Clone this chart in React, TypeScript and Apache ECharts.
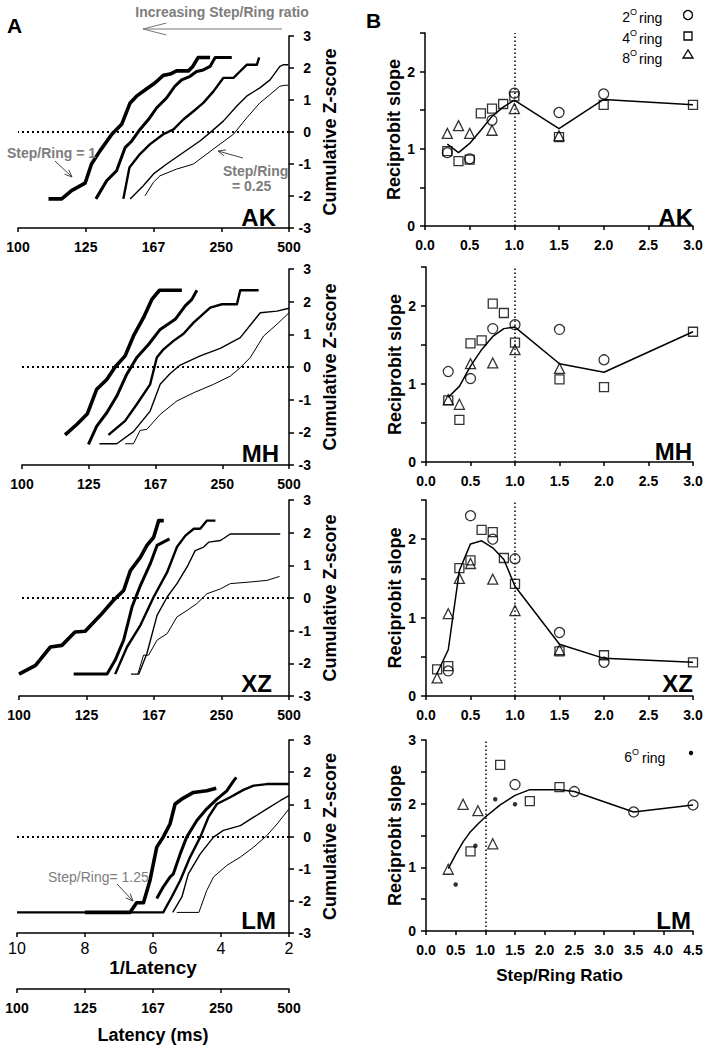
import React, { useEffect, useRef } from "react";
import * as echarts from "echarts";

const FONT = "'Liberation Sans', Arial, Helvetica, sans-serif";
const GRAY = "#7d7d7d";

// ---------------- Panel A data (x = 1/latency in s^-1, y = cumulative z-score) ----------------
const subjects = ["AK", "MH", "XZ", "LM"];
const rateTicks = [10, 8, 6, 4, 2];
const latencyTickLabels = ["100", "125", "167", "250", "500"];

const akCurves = [
  [[9.1,-2.09],[8.71,-2.09],[8.42,-1.83],[8.02,-1.6],[7.83,-1.0],[7.58,-0.59],[7.23,-0.07],[6.94,0.24],[6.69,0.91],[6.5,1.12],[6.2,1.35],[5.96,1.53],[5.71,1.77],[5.51,1.81],[5.32,1.91],[4.97,1.91],[4.84,2.05],[4.68,2.33],[4.33,2.33]],
  [[7.7,-2.09],[7.38,-1.52],[7.09,-1.21],[6.84,-0.49],[6.64,-0.28],[6.4,0.08],[6.15,0.39],[5.91,0.75],[5.61,1.07],[5.37,1.43],[5.17,1.63],[4.92,1.74],[4.73,1.89],[4.53,1.94],[4.33,2.05],[4.18,2.33],[3.69,2.33]],
  [[6.89,-2.09],[6.71,-1.11],[6.4,-0.69],[6.1,-0.38],[5.71,-0.07],[5.41,0.08],[5.12,0.39],[4.82,0.65],[4.53,0.91],[4.23,1.27],[3.94,1.69],[3.64,1.69],[3.45,1.89],[3.25,2.1],[2.95,2.1],[2.88,2.33]],
  [[6.69,-2.09],[6.3,-1.68],[6.0,-1.31],[5.61,-1.0],[5.12,-0.64],[4.63,-0.28],[4.33,-0.02],[3.94,0.34],[3.54,0.81],[3.25,1.12],[2.86,1.38],[2.56,1.63],[2.27,2.05],[2.17,2.1],[2.02,2.1]],
  [[6.25,-1.99],[6.0,-1.57],[5.81,-1.37],[5.32,-1.16],[4.82,-1.0],[4.43,-0.69],[4.04,-0.38],[3.64,-0.07],[3.25,0.44],[2.86,0.91],[2.56,1.17],[2.27,1.43],[2.12,1.46],[2.02,1.46]],
];
const mhCurves = [
  [[8.71,-2.08],[8.36,-1.76],[8.04,-1.43],[7.76,-0.68],[7.46,-0.38],[7.21,0],[6.91,0.34],[6.66,0.95],[6.36,1.51],[6.11,2.07],[5.88,2.35],[5.21,2.35]],
  [[8.01,-2.37],[7.76,-1.81],[7.46,-1.4],[7.16,-0.89],[6.86,-0.22],[6.56,0.29],[6.21,0.69],[5.86,1.15],[5.41,1.46],[5.11,1.87],[4.91,2.07],[4.76,2.35]],
  [[7.41,-2.08],[6.91,-1.65],[6.56,-1.14],[6.16,-0.53],[5.96,0.29],[5.76,0.54],[5.46,0.8],[5.16,1.02],[4.86,1.36],[4.36,1.82],[4.01,1.92],[3.56,1.92],[3.46,2.35],[2.91,2.35]],
  [[7.68,-2.35],[7.16,-2.35],[6.66,-1.98],[6.16,-1.35],[5.86,-0.53],[5.56,-0.2],[5.26,0.06],[4.66,0.34],[4.06,0.57],[3.46,0.9],[3.06,1.41],[2.86,1.66],[2.36,1.71],[2.0,1.8]],
  [[6.91,-2.35],[6.66,-2.35],[6.46,-1.94],[6.26,-1.91],[5.86,-1.45],[5.36,-1.04],[4.86,-0.79],[4.26,-0.53],[3.76,-0.28],[3.46,-0.02],[3.16,0.29],[2.76,0.95],[2.36,1.31],[2.0,1.66]],
];
const xzCurves = [
  [[10.0,-2.33],[9.51,-2.06],[9.07,-1.5],[8.73,-1.45],[8.34,-1.04],[8.04,-1.02],[7.59,-0.53],[7.2,-0.07],[6.9,0.23],[6.7,0.84],[6.4,1.25],[6.21,1.61],[6.01,1.86],[5.86,2.37],[5.71,2.37]],
  [[8.38,-2.33],[7.39,-2.33],[7.15,-1.9],[6.9,-1.29],[6.65,-0.27],[6.4,0.39],[6.11,1.05],[5.91,1.61],[5.54,1.81]],
  [[7.15,-2.33],[6.8,-1.5],[6.4,-0.83],[6.01,0.03],[5.61,0.79],[5.32,1.56],[5.07,1.91],[4.82,2.12],[4.63,2.12],[4.43,2.37],[4.18,2.37]],
  [[6.68,-2.33],[6.45,-2.33],[6.21,-1.7],[5.91,-0.53],[5.61,0.03],[5.32,0.44],[5.02,0.95],[4.78,1.45],[4.53,1.56],[4.38,1.71],[4.03,1.76],[3.74,1.96],[2.26,1.96]],
  [[6.48,-2.33],[6.31,-1.75],[6.16,-1.75],[5.91,-1.29],[5.61,-1.09],[5.32,-0.58],[5.02,-0.38],[4.73,-0.17],[4.43,0.13],[4.03,0.28],[3.74,0.44],[3.15,0.49],[2.65,0.54],[2.28,0.66]],
];
const lmCurves = [
  [[8.0,-2.36],[6.68,-2.36],[6.48,-2.06],[6.28,-2.06],[6.09,-1.37],[5.89,-0.33],[5.7,-0.02],[5.5,0.39],[5.35,1.01],[5.16,1.16],[4.81,1.37],[4.42,1.42],[4.14,1.5]],
  [[5.89,-1.93],[5.7,-1.57],[5.5,-1.26],[5.4,-1.16],[5.2,-0.54],[5.01,-0.02],[4.71,0.5],[4.42,0.86],[4.12,1.16],[3.83,1.42],[3.63,1.73],[3.55,1.84]],
  [[10.0,-2.36],[5.7,-2.36],[5.45,-1.88],[5.2,-1.37],[4.91,-0.64],[4.61,-0.02],[4.37,0.6],[4.12,1.01],[3.73,1.22],[3.34,1.45],[3.04,1.58],[2.65,1.63],[2.0,1.63]],
  [[5.42,-2.36],[5.15,-1.88],[4.96,-1.16],[4.61,-0.54],[4.22,-0.02],[3.93,0.19],[3.43,0.34],[3.04,0.6],[2.65,0.86],[2.25,1.12],[2.0,1.27]],
  [[5.3,-2.36],[4.65,-2.36],[4.42,-1.68],[4.22,-1.26],[3.83,-0.9],[3.43,-0.64],[3.04,-0.33],[2.65,0.03],[2.35,0.39],[2.0,0.86]],
];
const curvesBySubject = [akCurves, mhCurves, xzCurves, lmCurves];

// ---------------- Panel B data (x = step/ring ratio, y = reciprobit slope) ----------------
const akCircles = [[0.25,0.95],[0.5,0.87],[0.75,1.37],[1.0,1.72],[1.5,1.47],[2.0,1.71]];
const akSquares = [[0.25,0.97],[0.375,0.84],[0.5,0.86],[0.625,1.46],[0.75,1.52],[0.875,1.58],[1.0,1.68],[1.5,1.15],[2.0,1.57],[3.0,1.57]];
const akTriangles = [[0.25,1.2],[0.375,1.3],[0.5,1.2],[0.75,1.24],[1.0,1.52],[1.5,1.17]];
const akFit = [[0.25,1.06],[0.375,0.95],[0.5,1.07],[0.625,1.24],[0.75,1.42],[0.875,1.54],[1.0,1.63],[1.5,1.26],[2.0,1.64],[3.0,1.57]];

const mhCircles = [[0.25,1.16],[0.5,1.07],[0.75,1.71],[1.0,1.76],[1.5,1.7],[2.0,1.31]];
const mhSquares = [[0.25,0.79],[0.375,0.54],[0.5,1.52],[0.625,1.56],[0.75,2.03],[0.875,1.91],[1.0,1.53],[1.5,1.06],[2.0,0.96],[3.0,1.67]];
const mhTriangles = [[0.25,0.8],[0.375,0.74],[0.5,1.26],[0.75,1.27],[1.0,1.44],[1.5,1.2]];
const mhFit = [[0.25,0.83],[0.375,0.97],[0.5,1.23],[0.625,1.44],[0.75,1.61],[0.875,1.71],[1.0,1.73],[1.5,1.26],[2.0,1.15],[3.0,1.67]];

const xzCircles = [[0.25,0.32],[0.5,2.3],[0.75,2.0],[1.0,1.75],[1.5,0.81],[2.0,0.43]];
const xzSquares = [[0.125,0.34],[0.25,0.38],[0.375,1.63],[0.5,1.73],[0.625,2.12],[0.75,2.09],[0.875,1.76],[1.0,1.43],[1.5,0.57],[2.0,0.52],[3.0,0.43]];
const xzTriangles = [[0.125,0.23],[0.25,1.05],[0.375,1.5],[0.5,1.69],[0.75,1.49],[1.0,1.09],[1.5,0.59]];
const xzFit = [[0.125,0.29],[0.25,0.59],[0.375,1.6],[0.5,1.94],[0.625,1.98],[0.75,1.89],[0.875,1.74],[1.0,1.4],[1.5,0.66],[2.0,0.48],[3.0,0.43]];

const lmCircles = [[1.5,2.3],[2.5,2.19],[3.5,1.87],[4.5,1.98]];
const lmSquares = [[0.75,1.25],[1.25,2.61],[1.75,2.04],[2.25,2.26]];
const lmTriangles = [[0.375,0.97],[0.625,1.99],[0.875,1.89],[1.125,1.37]];
const lmDots = [[0.5,0.73],[0.833,1.34],[1.167,2.07],[1.5,1.99]];
const lmFit = [[0.375,0.98],[0.5,1.2],[0.625,1.4],[0.75,1.56],[0.875,1.68],[1.0,1.79],[1.25,1.98],[1.5,2.13],[1.75,2.22],[2.25,2.22],[2.5,2.19],[3.5,1.87],[4.5,1.98]];

const circlesBySubject = [akCircles, mhCircles, xzCircles, lmCircles];
const squaresBySubject = [akSquares, mhSquares, xzSquares, lmSquares];
const trianglesBySubject = [akTriangles, mhTriangles, xzTriangles, lmTriangles];
const fitBySubject = [akFit, mhFit, xzFit, lmFit];
const ratioMax = [3, 3, 3, 4.5];
const slopeMax = [2.5, 2.5, 2.5, 3];
const stepRingReference = 1;

// ---------------- layout ----------------
const gridA = [
  { left: 18, top: 36, width: 271, height: 192 },
  { left: 22, top: 269, width: 267, height: 196 },
  { left: 19, top: 500, width: 270, height: 196 },
  { left: 17, top: 740, width: 272, height: 193 },
];
const gridB = [
  { left: 425, top: 33, width: 268, height: 193 },
  { left: 426, top: 267, width: 267, height: 195 },
  { left: 426, top: 500, width: 267, height: 196 },
  { left: 426, top: 740, width: 267, height: 191 },
];
const curveWidths = [3.6, 3.0, 2.4, 1.4, 1.0];

const axisLine = { show: true, onZero: false, lineStyle: { color: "#000", width: 1.5 } };
const boldLabel = { color: "#000", fontFamily: FONT, fontWeight: "bold" as const, fontSize: 14 };
const nameStyle = (size: number) => ({ color: "#000", fontFamily: FONT, fontWeight: "bold", fontSize: size });

function txt(x: number, y: number, text: string, font: string, fill = "#000", align = "left", vAlign = "middle") {
  return {
    type: "text", x, y, silent: true, z: 100,
    style: { text, font, fill, align, verticalAlign: vAlign, textAlign: align, textVerticalAlign: vAlign },
  };
}
function arrow(x1: number, y1: number, x2: number, y2: number, color: string, head: number, spread: number, w = 1) {
  const ang = Math.atan2(y2 - y1, x2 - x1);
  const a1 = ang + Math.PI - spread;
  const a2 = ang + Math.PI + spread;
  return [
    { type: "line", silent: true, z: 100, shape: { x1, y1, x2, y2 }, style: { stroke: color, lineWidth: w } },
    {
      type: "polyline", silent: true, z: 100,
      shape: { points: [[x2 + head * Math.cos(a1), y2 + head * Math.sin(a1)], [x2, y2], [x2 + head * Math.cos(a2), y2 + head * Math.sin(a2)]] },
      style: { stroke: color, fill: "none", lineWidth: w },
    },
  ];
}

function buildOption() {
  const grid = [...gridA, ...gridB].map((g) => ({ ...g, containLabel: false, outerBoundsMode: "none" }));
  const xAxis: any[] = [];
  const yAxis: any[] = [];
  const series: any[] = [];
  const tick = { show: true, inside: false, length: 4, lineStyle: { color: "#000", width: 1.5 } };

  subjects.forEach((_, i) => {
    const isLast = i === 3;
    xAxis.push({
      type: "value", gridIndex: i, min: 2, max: 10, interval: 2, inverse: true, position: "bottom",
      axisLine, axisTick: tick, splitLine: { show: false },
      axisLabel: isLast
        ? { color: "#000", fontFamily: FONT, fontSize: 16, margin: 7, formatter: (v: number) => String(v) }
        : { ...boldLabel, margin: 12, formatter: (v: number) => latencyTickLabels[rateTicks.indexOf(v)] ?? "" },
      ...(isLast ? { name: "1/Latency", nameLocation: "middle", nameGap: 25, nameTextStyle: nameStyle(19) } : {}),
    });
    yAxis.push({
      type: "value", gridIndex: i, min: -3, max: 3, interval: 1, position: "right",
      axisLine, axisTick: { ...tick, length: 5 }, splitLine: { show: false },
      axisLabel: { ...boldLabel, align: "right", margin: 22 },
      name: "Cumulative Z-score", nameLocation: "middle", nameRotate: 90, nameGap: 32,
      nameTextStyle: nameStyle(18),
    });
  });
  subjects.forEach((_, i) => {
    const isLast = i === 3;
    xAxis.push({
      type: "value", gridIndex: 4 + i, min: 0, max: ratioMax[i], interval: 0.5, position: "bottom",
      axisLine, axisTick: tick, splitLine: { show: false },
      axisLabel: { ...boldLabel, margin: 12, formatter: (v: number) => v.toFixed(1) },
      ...(isLast ? { name: "Step/Ring Ratio", nameLocation: "middle", nameGap: 36, nameTextStyle: nameStyle(17) } : {}),
    });
    yAxis.push({
      type: "value", gridIndex: 4 + i, min: 0, max: slopeMax[i], interval: 0.5, position: "left",
      axisLine, axisTick: { ...tick, length: 5 }, splitLine: { show: false },
      axisLabel: { ...boldLabel, margin: 10, formatter: (v: number) => (Number.isInteger(v) ? String(v) : "") },
      name: "Reciprobit slope", nameLocation: "middle", nameRotate: 90, nameGap: 19,
      nameTextStyle: nameStyle(18),
    });
  });
  // second latency axis under LM 1/latency axis
  xAxis.push({
    type: "value", gridIndex: 3, min: 2, max: 10, interval: 2, inverse: true, position: "bottom", offset: 56,
    axisLine, axisTick: tick, splitLine: { show: false },
    axisLabel: { ...boldLabel, margin: 12, formatter: (v: number) => latencyTickLabels[rateTicks.indexOf(v)] ?? "" },
    name: "Latency (ms)", nameLocation: "middle", nameGap: 37, nameTextStyle: nameStyle(18),
  });

  curvesBySubject.forEach((curves, s) => {
    curves.forEach((pts, c) => {
      series.push({
        type: "line", xAxisIndex: s, yAxisIndex: s, data: pts, symbol: "none", showSymbol: false, silent: true,
        lineStyle: { color: "#000", width: curveWidths[c], join: "round" }, z: 10 - c,
        ...(c === 0
          ? {
              markLine: {
                silent: true, symbol: "none", label: { show: false },
                lineStyle: { color: "#000", width: 2, type: [2, 3] },
                data: [{ yAxis: 0 }],
              },
            }
          : {}),
      });
    });
  });

  const openStyle = { color: "rgba(255,255,255,0)", borderColor: "#000", borderWidth: 1.3 };
  subjects.forEach((_, s) => {
    const ax = 4 + s;
    series.push({
      type: "line", xAxisIndex: ax, yAxisIndex: ax, data: fitBySubject[s], symbol: "none", silent: true,
      lineStyle: { color: "#000", width: 1.5 },
      markLine: {
        silent: true, symbol: "none", label: { show: false },
        lineStyle: { color: "#000", width: 1.5, type: [1.5, 2.5] },
        data: [{ xAxis: stepRingReference }],
      },
    });
    series.push({ type: "scatter", xAxisIndex: ax, yAxisIndex: ax, data: circlesBySubject[s], symbol: "circle", symbolSize: 10, itemStyle: openStyle, silent: true });
    series.push({ type: "scatter", xAxisIndex: ax, yAxisIndex: ax, data: squaresBySubject[s], symbol: "rect", symbolSize: 9, itemStyle: openStyle, silent: true });
    series.push({ type: "scatter", xAxisIndex: ax, yAxisIndex: ax, data: trianglesBySubject[s], symbol: "triangle", symbolSize: 10, itemStyle: openStyle, silent: true });
  });
  series.push({ type: "scatter", xAxisIndex: 7, yAxisIndex: 7, data: lmDots, symbol: "circle", symbolSize: 4.5, itemStyle: { color: "#000" }, silent: true });

  const bigFont = `bold 24px ${FONT}`;
  const annFont = `bold 14px ${FONT}`;
  const graphic: any[] = [
    txt(7, 25, "A", `bold 21px ${FONT}`),
    txt(366, 20, "B", `bold 21px ${FONT}`),
    txt(222, 12, "Increasing Step/Ring ratio", annFont, GRAY, "center"),
    ...arrow(282, 29, 143, 29, "#777", 24, 0.25),
    txt(7, 153, "Step/Ring = 1", annFont, GRAY),
    ...arrow(55, 161, 72, 177, "#444", 8, 0.4),
    txt(223, 171, "Step/Ring", annFont, GRAY),
    txt(232, 186, "= 0.25", annFont, GRAY),
    ...arrow(243, 158, 218, 151, "#444", 8, 0.4),
    txt(48, 877, "Step/Ring= 1.25", `14px ${FONT}`, GRAY),
    ...arrow(117, 884, 133, 901, "#444", 8, 0.4),
    txt(276, 217, "AK", bigFont, "#000", "right"),
    txt(279, 453, "MH", bigFont, "#000", "right"),
    txt(272, 683, "XZ", bigFont, "#000", "right"),
    txt(276, 920, "LM", bigFont, "#000", "right"),
    txt(693, 217, "AK", bigFont, "#000", "right"),
    txt(692, 451, "MH", bigFont, "#000", "right"),
    txt(693, 683, "XZ", bigFont, "#000", "right"),
    txt(691, 920, "LM", bigFont, "#000", "right"),
  ];
  // legend
  const legendRows = [
    { d: "2", y: 17 },
    { d: "4", y: 38 },
    { d: "8", y: 58 },
  ];
  legendRows.forEach((r) => {
    graphic.push(txt(630, r.y, r.d, `14px ${FONT}`, "#000", "right"));
    graphic.push(txt(630, r.y - 5, "O", `9px ${FONT}`, "#000", "left"));
    graphic.push(txt(639, r.y + 1, "ring", `14px ${FONT}`, "#000", "left"));
  });
  graphic.push({ type: "circle", silent: true, z: 100, shape: { cx: 688, cy: 15, r: 4.5 }, style: { fill: "none", stroke: "#000", lineWidth: 1.3 } });
  graphic.push({ type: "rect", silent: true, z: 100, shape: { x: 684, y: 32, width: 8, height: 8 }, style: { fill: "none", stroke: "#000", lineWidth: 1.3 } });
  graphic.push({ type: "polygon", silent: true, z: 100, shape: { points: [[688, 50], [683, 58], [693, 58]] }, style: { fill: "none", stroke: "#000", lineWidth: 1.3 } });
  graphic.push(txt(632, 757, "6", `14px ${FONT}`, "#000", "right"));
  graphic.push(txt(632, 752, "O", `9px ${FONT}`, "#000", "left"));
  graphic.push(txt(642, 758, "ring", `14px ${FONT}`, "#000", "left"));
  graphic.push({ type: "circle", silent: true, z: 100, shape: { cx: 691, cy: 753, r: 2.2 }, style: { fill: "#000" } });

  return {
    animation: false,
    backgroundColor: "#fff",
    grid, xAxis, yAxis, series, graphic,
  };
}

export default function App() {
  const ref = useRef<HTMLDivElement>(null);
  useEffect(() => {
    document.body.style.margin = "0";
    if (!ref.current) return;
    const chart = echarts.init(ref.current, null, { renderer: "svg" });
    chart.setOption(buildOption() as any);
    return () => chart.dispose();
  }, []);
  return <div ref={ref} style={{ width: 711, height: 1050, background: "#fff" }} />;
}
